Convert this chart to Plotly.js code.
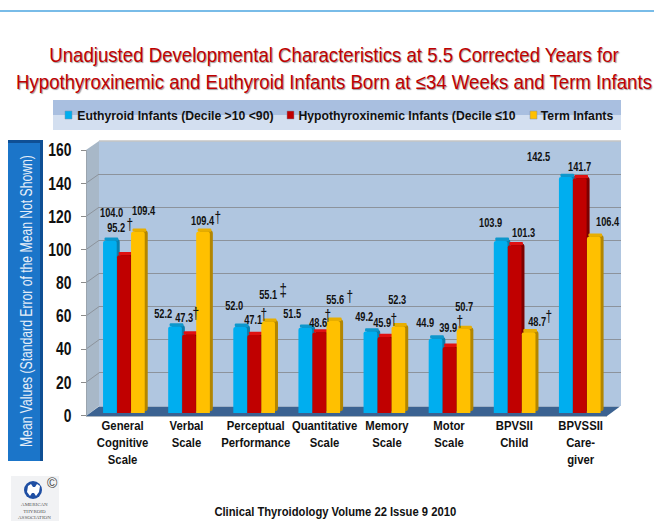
<!DOCTYPE html>
<html>
<head>
<meta charset="utf-8">
<script src="https://cdn.plot.ly/plotly-3.0.1.min.js"></script>
<style>html,body{margin:0;padding:0;background:#fff}</style>
</head>
<body>
<div id="chart" style="width:654px;height:521px"></div>
<script>
// ---- data ----
var categories = ['General<br>Cognitive<br>Scale','Verbal<br>Scale','Perceptual<br>Performance','Quantitative<br>Scale','Memory<br>Scale','Motor<br>Scale','BPVSII<br>Child','BPVSSII<br>Care-<br>giver'];
var euthyroid = [104.0,52.2,52.0,51.5,49.2,44.9,103.9,142.5];
var hypothyroxinemic = [95.2,47.3,47.1,48.6,45.9,39.9,101.3,141.7];
var term = [109.4,109.4,55.1,55.6,52.3,50.7,48.7,106.4];
var seriesNames = ['Euthyroid Infants (Decile >10 <90)','Hypothyroxinemic Infants (Decile ≤10','Term Infants'];
var hypoMarks = ['†','†','†','†','†','†','',''];
var termMarks = ['','†','‡','†','','','†',''];
var yTicks = [0,20,40,60,80,100,120,140,160];

// ---- label placement offsets (px) ----
var euthDx = [-14,-27,-21,-28,-22,-25.5,-25.6,-42.7], euthDy = [27.8,12.6,20.9,13.7,14.5,15.6,18,20];
var hypoDx = [-9,-6,-2,-2,-4,-2.5,7.4,-1.7], hypoDy = [27.3,16.7,15,9.5,14,18.9,12.2,11.3];
var termDx = [18,11.9,12.8,14.7,11.6,13.5,21.4,26.3], termDy = [20.8,10.8,26.8,20.9,26.4,22,10.4,14.8];
var hypoMarkDx = [4,4.9,7.8,6.7,7.6,8.5,0,0], hypoMarkDy = [31.3,20.7,20,17.5,17,25.9,0,0];
var termMarkDx = [0,26.9,27.8,28.7,0,0,32.4,0], termMarkDy = [0,14.8,31.8,24.9,0,0,15.4,0];
var catDx = [-2.5,-4.1,-0.2,3.7,2.1,-1.5,-1.6,-0.7];

var W = 654, H = 521;
var SANS = '"Liberation Sans",Arial,sans-serif';
var px = function(x){return x/W;}, py = function(y){return 1-y/H;};
var dom = function(a,b,f){return [Math.min(f(a),f(b)),Math.max(f(a),f(b))];};

var faceColors = ['#00aeef','#c00000','#ffc000'];
var capColors  = ['#0d97cc','#e01010','#e8ae00'];
var sideColors = ['#0a7fae','#7d0000','#b38600'];
var series = [euthyroid,hypothyroxinemic,term];
var barOffsets = [-0.338,-0.123,0.092];
var barWidth = 0.21, depthX = 0.046, depthY = 2;

var traces = [];
traces.push({type:'scatter',mode:'none',x:categories,y:term,xaxis:'x',yaxis:'y',hoverinfo:'skip',showlegend:false,name:'wall grid'});
traces.push({type:'scatter',mode:'none',x:categories,y:term,xaxis:'x',yaxis:'y2',hoverinfo:'skip',showlegend:false,name:'front axis'});
series.forEach(function(vals,s){
  traces.push({type:'bar',x:categories,y:vals,base:1,offset:barOffsets[s]+depthX,width:barWidth,xaxis:'x2',yaxis:'y3',
    marker:{color:sideColors[s],cornerradius:3,line:{width:0}},showlegend:false,hoverinfo:'skip',name:seriesNames[s]+' side'});
  traces.push({type:'bar',x:categories,y:vals.map(function(){return depthY;}),base:vals,offset:barOffsets[s]+depthX*0.5,width:barWidth,xaxis:'x2',yaxis:'y3',
    marker:{color:capColors[s],cornerradius:3,line:{width:0}},showlegend:false,hoverinfo:'skip',name:seriesNames[s]+' cap'});
  traces.push({type:'bar',x:categories,y:vals,offset:barOffsets[s],width:barWidth,xaxis:'x2',yaxis:'y3',
    marker:{color:faceColors[s],cornerradius:2,line:{width:0}},showlegend:false,name:seriesNames[s]});
});

// ---- decorative shapes in page pixels ----
var shapes = [];
function rect(x0,y0,x1,y1,fill,line){shapes.push({type:'rect',xref:'paper',yref:'paper',layer:'below',x0:px(x0),x1:px(x1),y0:py(y0),y1:py(y1),fillcolor:fill,line:line||{width:0}});}
function poly(pts,fill){var d=pts.map(function(p,i){return (i?'L':'M')+px(p[0])+','+py(p[1]);}).join(' ')+' Z';
  shapes.push({type:'path',xref:'paper',yref:'paper',layer:'below',path:d,fillcolor:fill,line:{width:0}});}
function seg(x0,y0,x1,y1,col,w){shapes.push({type:'line',xref:'paper',yref:'paper',layer:'below',x0:px(x0),x1:px(x1),y0:py(y0),y1:py(y1),line:{color:col,width:w}});}

seg(0,11,654,11,'#4da6e0',1.5);
rect(53,100,621,115,'#a9bfe0');
rect(53,115,621,130,'#d3dff0');
[[65,'#00aeef'],[287,'#c00000'],[530,'#ffc000']].forEach(function(m){rect(m[0],111,m[0]+7,119,m[1],{color:'#7f8fa8',width:0.5});});
rect(8,140,43,461,'#1b75c9');
rect(8,140,43,143,'#0f4f94');
rect(40,140,43,461,'#0f4f94');
rect(99,141,621,406,'#b0c6e0');
seg(99,141,621,141,'#c4c4c4',1.5);
poly([[86,150],[99,141],[99,406],[86,416]],'#a8b8c8');
poly([[86,416],[99,406.5],[620,406.5],[607,416]],'#3b6291');
seg(86,416.5,607,416.5,'#a9b3bd',1.2);
yTicks.forEach(function(t){
  var yFront = 415.5-t*265.5/160, yBack = 406-t*265/160;
  if(t>0&&t<160) seg(86,yFront,99,yBack,'#8c939c',1);
});
rect(11,476,59,521,'#f1f2f4');
shapes.push({type:'circle',xref:'paper',yref:'paper',x0:px(24),x1:px(42),y0:py(481),y1:py(499),fillcolor:'#1f4fa3',line:{width:0},layer:'below'});
poly([[28,486],[31,484],[33,487],[35,487],[37,484],[40,486],[39,492],[36,496],[34,493],[32,493],[30,496],[27,492]],'#ffffff');

// ---- text ----
var annotations = [];
function valueLabels(vals,dx,dy){vals.forEach(function(v,i){
  annotations.push({xref:'x2',yref:'y3',x:categories[i],y:v,xshift:dx[i],yshift:dy[i],text:v.toFixed(1),showarrow:false,xanchor:'center',yanchor:'middle',
    font:{family:SANS,size:12.5,color:'#111',weight:700}});});}
valueLabels(euthyroid,euthDx,euthDy);
valueLabels(hypothyroxinemic,hypoDx,hypoDy);
valueLabels(term,termDx,termDy);
function markLabels(vals,marks,dx,dy){marks.forEach(function(m,i){ if(!m) return;
  annotations.push({xref:'x2',yref:'y3',x:categories[i],y:vals[i],xshift:dx[i],yshift:dy[i],text:m,showarrow:false,xanchor:'center',yanchor:'middle',
    font:{family:SANS,size:m==='‡'?19:17,color:'#111'}});});}
markLabels(hypothyroxinemic,hypoMarks,hypoMarkDx,hypoMarkDy);
markLabels(term,termMarks,termMarkDx,termMarkDy);
categories.forEach(function(c,i){
  annotations.push({xref:'x2',yref:'paper',x:c,y:py(415.5),xshift:catDx[i],text:c,showarrow:false,xanchor:'center',yanchor:'top',align:'center',
    font:{family:SANS,size:13,color:'#111',weight:700}});
});
[[175.5,seriesNames[0]],[407.5,seriesNames[1]],[576.5,seriesNames[2]]].forEach(function(l){
  annotations.push({xref:'paper',yref:'paper',x:px(l[0]),y:py(115),text:l[1],showarrow:false,xanchor:'center',yanchor:'middle',
    font:{family:SANS,size:13.5,color:'#111',weight:700}});
});
annotations.push({xref:'paper',yref:'paper',x:px(26),y:py(301),text:'Mean Values (Standard Error of the Mean Not Shown)',textangle:-90,showarrow:false,xanchor:'center',yanchor:'middle',
  font:{family:SANS,size:16,color:'#e6eef8'}});
annotations.push({xref:'paper',yref:'paper',x:px(335),y:py(512),text:'Clinical Thyroidology Volume 22 Issue 9 2010',showarrow:false,xanchor:'center',yanchor:'middle',
  font:{family:SANS,size:12,color:'#111',weight:700}});
annotations.push({xref:'paper',yref:'paper',x:px(34),y:py(511),text:'AMERICAN<br>THYROID<br>ASSOCIATION',showarrow:false,xanchor:'center',yanchor:'middle',
  font:{family:'"Liberation Serif",serif',size:5,color:'#555'}});
annotations.push({xref:'paper',yref:'paper',x:px(52),y:py(483),text:'©',showarrow:false,xanchor:'center',yanchor:'middle',
  font:{family:SANS,size:14,color:'#444'}});

var layout = {
  width:W,height:H,margin:{l:0,r:0,t:0,b:0},paper_bgcolor:'#fff',plot_bgcolor:'rgba(0,0,0,0)',
  barmode:'overlay',showlegend:false,hovermode:false,
  title:{text:'Unadjusted Developmental Characteristics at 5.5 Corrected Years for<br>Hypothyroxinemic and Euthyroid Infants Born at ≤34 Weeks and Term Infants',
    x:334/W,xanchor:'center',y:py(62),yanchor:'middle',
    font:{family:SANS,size:21,color:'#c00000',shadow:'1px 1px 1px #999'}},
  xaxis:{domain:dom(99,621,px),type:'category',categoryarray:categories,visible:false,anchor:'y'},
  yaxis:{domain:dom(141,406,py),range:[0,160],tickvals:yTicks,showgrid:true,gridcolor:'#8c939c',gridwidth:1,zeroline:false,showline:false,ticks:'',showticklabels:false,anchor:'x'},
  yaxis2:{domain:dom(150,415.5,py),range:[0,160],anchor:'free',position:px(86),side:'left',tickvals:yTicks,ticktext:yTicks.map(String),
    ticks:'outside',ticklen:5,tickcolor:'#8c8c8c',showline:true,linecolor:'#9aa4ae',linewidth:1,showgrid:false,zeroline:false,ticklabelstandoff:6,
    tickfont:{family:SANS,size:18,color:'#111',weight:700}},
  xaxis2:{domain:dom(92.5,613.5,px),type:'category',categoryarray:categories,range:[-0.5,7.5],visible:false,anchor:'y3'},
  yaxis3:{domain:dom(148,413,py),range:[0,160],visible:false,anchor:'x2'},
  shapes:shapes,annotations:annotations
};

// The reference uses a condensed face; no condensed font is installed, so the real text is narrowed glyph-wise.
var narrowBySize = {'12.5':0.74,'18':0.77,'13':0.87,'13.5':0.905,'12':0.935,'21':0.887,'16':0.76,'17':0.7,'19':0.7};
function condense(el,f){
  var len = el.getComputedTextLength();
  el.setAttribute('textLength',(len*f).toFixed(2));
  el.setAttribute('lengthAdjust','spacingAndGlyphs');
}
Plotly.newPlot('chart',traces,layout,{staticPlot:true,displayModeBar:false}).then(function(){
  document.querySelectorAll('#chart svg text').forEach(function(t){
    var size = String(parseFloat(t.style.fontSize||getComputedStyle(t).fontSize));
    var f = narrowBySize[size];
    if(!f) return;
    var lines = t.querySelectorAll('tspan.line');
    if(lines.length){lines.forEach(function(l){condense(l,f);});}
    else{condense(t,f);}
  });
});
</script>
</body>
</html>
